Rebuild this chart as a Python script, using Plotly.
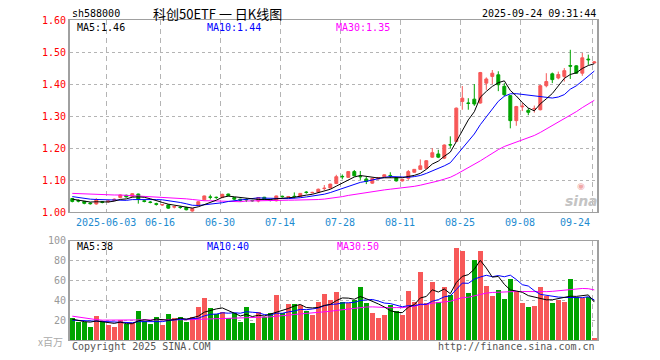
import plotly.graph_objects as go
import pandas as pd

dates = [
    "2025-05-23", "2025-05-26", "2025-05-27", "2025-05-28", "2025-05-29", "2025-05-30",
    "2025-06-03", "2025-06-04", "2025-06-05", "2025-06-06", "2025-06-09", "2025-06-10",
    "2025-06-11", "2025-06-12", "2025-06-13", "2025-06-16", "2025-06-17", "2025-06-18",
    "2025-06-19", "2025-06-20", "2025-06-23", "2025-06-24", "2025-06-25", "2025-06-26",
    "2025-06-27", "2025-06-30", "2025-07-01", "2025-07-02", "2025-07-03", "2025-07-04",
    "2025-07-07", "2025-07-08", "2025-07-09", "2025-07-10", "2025-07-11", "2025-07-14",
    "2025-07-15", "2025-07-16", "2025-07-17", "2025-07-18", "2025-07-21", "2025-07-22",
    "2025-07-23", "2025-07-24", "2025-07-25", "2025-07-28", "2025-07-29", "2025-07-30",
    "2025-07-31", "2025-08-01", "2025-08-04", "2025-08-05", "2025-08-06", "2025-08-07",
    "2025-08-08", "2025-08-11", "2025-08-12", "2025-08-13", "2025-08-14", "2025-08-15",
    "2025-08-18", "2025-08-19", "2025-08-20", "2025-08-21", "2025-08-22", "2025-08-25",
    "2025-08-26", "2025-08-27", "2025-08-28", "2025-08-29", "2025-09-01", "2025-09-02",
    "2025-09-03", "2025-09-04", "2025-09-05", "2025-09-08", "2025-09-09", "2025-09-10",
    "2025-09-11", "2025-09-12", "2025-09-15", "2025-09-16", "2025-09-17", "2025-09-18",
    "2025-09-19", "2025-09-22", "2025-09-23", "2025-09-24",
]

open_ = [
    1.043, 1.037, 1.034, 1.029, 1.026, 1.033, 1.033, 1.037, 1.046, 1.053,
    1.049, 1.057, 1.036, 1.032, 1.027, 1.023, 1.023, 1.016, 1.016, 1.015,
    1.004, 1.021, 1.039, 1.048, 1.047, 1.046, 1.057, 1.046, 1.041, 1.040,
    1.037, 1.035, 1.047, 1.038, 1.036, 1.050, 1.048, 1.050, 1.049, 1.063,
    1.061, 1.063, 1.074, 1.076, 1.090, 1.112, 1.109, 1.127, 1.112, 1.104,
    1.091, 1.104, 1.111, 1.115, 1.108, 1.098, 1.106, 1.125, 1.134, 1.137,
    1.172, 1.182, 1.169, 1.211, 1.221, 1.346, 1.341, 1.353, 1.341, 1.403,
    1.424, 1.429, 1.393, 1.364, 1.286, 1.329, 1.318, 1.322, 1.320, 1.395,
    1.432, 1.419, 1.424, 1.458, 1.457, 1.434, 1.478, 1.466,
]
high = [
    1.045, 1.040, 1.035, 1.031, 1.044, 1.035, 1.038, 1.043, 1.056, 1.055,
    1.060, 1.058, 1.038, 1.035, 1.030, 1.026, 1.025, 1.020, 1.019, 1.017,
    1.013, 1.034, 1.052, 1.055, 1.049, 1.058, 1.058, 1.047, 1.042, 1.044,
    1.039, 1.047, 1.048, 1.040, 1.052, 1.052, 1.051, 1.062, 1.060, 1.066,
    1.064, 1.074, 1.085, 1.089, 1.117, 1.118, 1.128, 1.132, 1.129, 1.111,
    1.107, 1.109, 1.118, 1.125, 1.109, 1.104, 1.132, 1.135, 1.165, 1.163,
    1.200, 1.195, 1.212, 1.237, 1.327, 1.394, 1.356, 1.400, 1.438, 1.421,
    1.444, 1.440, 1.403, 1.366, 1.332, 1.341, 1.325, 1.333, 1.397, 1.434,
    1.436, 1.439, 1.450, 1.507, 1.459, 1.497, 1.492, 1.472,
]
low = [
    1.031, 1.031, 1.025, 1.024, 1.024, 1.028, 1.030, 1.035, 1.044, 1.046,
    1.047, 1.027, 1.031, 1.028, 1.021, 1.020, 1.011, 1.012, 1.011, 1.006,
    1.002, 1.019, 1.037, 1.040, 1.042, 1.044, 1.050, 1.038, 1.033, 1.032,
    1.033, 1.031, 1.039, 1.034, 1.034, 1.046, 1.047, 1.044, 1.047, 1.058,
    1.059, 1.061, 1.069, 1.074, 1.088, 1.103, 1.107, 1.112, 1.101, 1.088,
    1.089, 1.103, 1.110, 1.107, 1.096, 1.096, 1.101, 1.123, 1.132, 1.135,
    1.170, 1.169, 1.166, 1.200, 1.219, 1.320, 1.320, 1.332, 1.339, 1.382,
    1.400, 1.378, 1.362, 1.262, 1.270, 1.316, 1.303, 1.311, 1.318, 1.390,
    1.403, 1.415, 1.408, 1.416, 1.432, 1.426, 1.460, 1.465,
]
close = [
    1.034, 1.035, 1.028, 1.027, 1.040, 1.031, 1.035, 1.041, 1.054, 1.048,
    1.058, 1.040, 1.034, 1.031, 1.025, 1.024, 1.013, 1.018, 1.015, 1.008,
    1.012, 1.033, 1.051, 1.047, 1.046, 1.056, 1.052, 1.041, 1.038, 1.039,
    1.036, 1.046, 1.041, 1.037, 1.051, 1.049, 1.049, 1.049, 1.059, 1.062,
    1.062, 1.072, 1.075, 1.088, 1.111, 1.111, 1.127, 1.114, 1.111, 1.096,
    1.106, 1.108, 1.117, 1.114, 1.098, 1.103, 1.127, 1.134, 1.145, 1.161,
    1.186, 1.172, 1.210, 1.210, 1.325, 1.356, 1.340, 1.338, 1.436, 1.416,
    1.434, 1.398, 1.367, 1.286, 1.330, 1.331, 1.312, 1.324, 1.395, 1.408,
    1.414, 1.430, 1.442, 1.456, 1.434, 1.482, 1.476, 1.469,
]
# volume, millions
volume = [
    22, 18.5, 18, 13.4, 24, 18, 15, 13.4, 20, 16,
    17.5, 29.5, 19, 16, 23.5, 15, 26, 22, 23.5, 18,
    23, 33.5, 42, 32, 26, 28, 22, 27, 18, 33.5,
    17.5, 28.5, 23.5, 27, 45, 27, 36, 36, 35, 29.5,
    25, 38.5, 46, 40, 48.7, 38.6, 37.6, 40.3, 53.7, 37.6,
    27.5, 22.5, 25.2, 35.2, 29.5, 25.2, 49.7, 38.6, 68.8, 36.9,
    58.7, 38.6, 53.7, 45.3, 93, 90, 47, 81, 90, 54.4,
    44.3, 50.3, 41.6, 61.4, 49.3, 37.6, 33.6, 34.2, 53, 44,
    37.6, 40, 38, 61, 43, 42, 43, 2,
]

ma5_head = [1.041, 1.038, 1.035, 1.032]
ma10_head = [1.049, 1.046, 1.043, 1.041, 1.040, 1.039, 1.038, 1.038, 1.038]
ma30_head = [1.059, 1.058, 1.057, 1.057, 1.057, 1.056, 1.055, 1.054, 1.054, 1.053,
             1.052, 1.052, 1.051, 1.049, 1.047, 1.047, 1.046, 1.045, 1.044, 1.042,
             1.040, 1.037, 1.036, 1.036, 1.035, 1.034, 1.033, 1.033, 1.033]
vol_ma5_head = [21, 19.5, 18.5, 18]
vol_ma10_head = [20, 19.8, 19.5, 19.2, 19, 18.8, 18.5, 18.3, 18]
vol_ma30_head = [24, 23, 22, 21, 20.5, 20, 20, 20, 20, 19.8,
                 19.8, 20, 20, 20, 19.8, 19.8, 20, 20, 20, 20.2,
                 20.5, 20.8, 21, 21, 21.3, 21.5, 21.5, 21.5, 21.5]

tick_dates = ["2025-06-03", "2025-06-16", "2025-06-30", "2025-07-14", "2025-07-28",
              "2025-08-11", "2025-08-25", "2025-09-08", "2025-09-24"]
tick_labels = ["2025-06-03", "06-16", "06-30", "07-14", "07-28", "08-11", "08-25", "09-08", "09-24"]
price_ticks = [1.00, 1.10, 1.20, 1.30, 1.40, 1.50, 1.60]
vol_ticks = [20, 40, 60, 80, 100]

legend_price = ["MA5:1.46", "MA10:1.44", "MA30:1.35"]
legend_vol = ["MA5:38", "MA10:40", "MA30:50"]


def moving(values, n, head):
    s = pd.Series(values, dtype=float).rolling(n).mean().tolist()
    return list(head) + s[len(head):]


idx = list(range(len(dates)))
ma5 = moving(close, 5, ma5_head)
ma10 = moving(close, 10, ma10_head)
ma30 = moving(close, 30, ma30_head)
vma5 = moving(volume, 5, vol_ma5_head)
vma10 = moving(volume, 10, vol_ma10_head)
vma30 = moving(volume, 30, vol_ma30_head)

RED = "#F75858"
GREEN = "#00A400"
MONO = "DejaVu Sans Mono"
bar_colors = [RED if c >= o else GREEN for o, c in zip(open_, close)]
grid_x = [dates.index(d) - 1 / 3 for d in tick_dates]

fig = go.Figure()
fig.add_trace(go.Candlestick(
    x=idx, open=open_, high=high, low=low, close=close,
    increasing=dict(line=dict(color=RED, width=1), fillcolor=RED),
    decreasing=dict(line=dict(color=GREEN, width=1), fillcolor=GREEN),
    whiskerwidth=0, xaxis="x", yaxis="y", hoverinfo="skip"))
for vals, col in [(ma30, "#FF00FF"), (ma10, "#0000FF"), (ma5, "#000000")]:
    fig.add_trace(go.Scatter(x=idx, y=vals, mode="lines", line=dict(color=col, width=1),
                             xaxis="x", yaxis="y", hoverinfo="skip"))
fig.add_trace(go.Bar(x=idx, y=volume, marker=dict(color=bar_colors, line=dict(width=0)),
                     width=0.8, xaxis="x2", yaxis="y2", hoverinfo="skip"))
for vals, col in [(vma30, "#FF00FF"), (vma10, "#0000FF"), (vma5, "#000000")]:
    fig.add_trace(go.Scatter(x=idx, y=vals, mode="lines", line=dict(color=col, width=1),
                             xaxis="x2", yaxis="y2", hoverinfo="skip"))

L, R, T, B = 70, 597, 20, 340


def px(x):
    return (x - L) / (R - L)


def py(y):
    return (B - y) / (B - T)


xrange_ = [-0.383, len(dates) - 1 + 0.45]
common_x = dict(range=xrange_, tickvals=grid_x, showticklabels=False, ticks="",
                showgrid=True, gridcolor="#b4b4b4", gridwidth=1, griddash="5px,4px",
                showline=True, mirror=True, linecolor="#a0a0a0", linewidth=1,
                zeroline=False, fixedrange=True)
common_y = dict(showgrid=True, gridcolor="#b4b4b4", gridwidth=1, griddash="dot",
                showline=True, mirror=True, linecolor="#a0a0a0", linewidth=2,
                zeroline=False, ticks="", automargin=False, fixedrange=True)

fig.update_layout(
    width=660, height=360,
    margin=dict(l=L, r=660 - R, t=T, b=360 - B, pad=0),
    paper_bgcolor="white", plot_bgcolor="white",
    showlegend=False, bargap=0,
    xaxis=dict(anchor="y", domain=[0, 1], rangeslider=dict(visible=False), **common_x),
    xaxis2=dict(anchor="y2", domain=[0, 1], **common_x),
    yaxis=dict(domain=[py(212.3), 1.0], range=[1.0, 1.6], tickvals=price_ticks,
               ticktext=[f"{v:.2f}" for v in price_ticks],
               tickfont=dict(family=MONO, size=10, color="#FF0000"), **common_y),
    yaxis2=dict(domain=[0, py(240.7)], range=[0, 100], tickvals=vol_ticks,
                ticktext=[str(v) for v in vol_ticks],
                tickfont=dict(family=MONO, size=10, color="#999999"), **common_y),
)

ann = []


def text(x, y, s, color="#000", size=10, family=MONO, anchor="left", **kw):
    ann.append(dict(x=px(x), y=py(y), xref="paper", yref="paper", text=s, showarrow=False,
                    xanchor=anchor, yanchor="middle",
                    font=dict(family=family, size=size, color=color, **kw)))


text(70, 13.5, "sh588000")
text(217, 13.5, "科创50ETF 一 日K线图", size=13, family="Noto Sans CJK SC", anchor="center")
text(598, 13.5, "2025-09-24 09:31:44", anchor="right")
text(75, 27.5, legend_price[0], "#000000")
text(205, 27.5, legend_price[1], "#0000FF")
text(334, 27.5, legend_price[2], "#FF00FF")
text(75, 246.5, legend_vol[0], "#000000")
text(205, 246.5, legend_vol[1], "#0000FF")
text(335, 246.5, legend_vol[2], "#FF00FF")
text(65, 341, "x百万", "#aaaaaa", size=10, family="Noto Sans CJK SC", anchor="right")
text(70, 346.5, "Copyright 2025 SINA.COM", "#555555")
text(597, 346.5, "http://finance.sina.com.cn", "#555555", anchor="right")
for i, (gx, lab) in enumerate(zip(grid_x, tick_labels)):
    xpix = L + (gx - xrange_[0]) / (xrange_[1] - xrange_[0]) * (R - L)
    text(xpix, 222.5, lab, "#1E8BD0",
         anchor="right" if i == len(tick_labels) - 1 else "center")
# sina watermark
text(581, 186, "◉", "rgba(235,140,140,0.75)", size=9, family="DejaVu Sans", anchor="center")
text(581, 201, "sina", "#c4c4c4", size=14, family="DejaVu Sans", anchor="center",
     weight="bold", style="italic")

fig.update_layout(annotations=ann)
fig.write_html("out.html", config={"displayModeBar": False, "staticPlot": True},
               post_script="document.body.style.margin='0px';")
